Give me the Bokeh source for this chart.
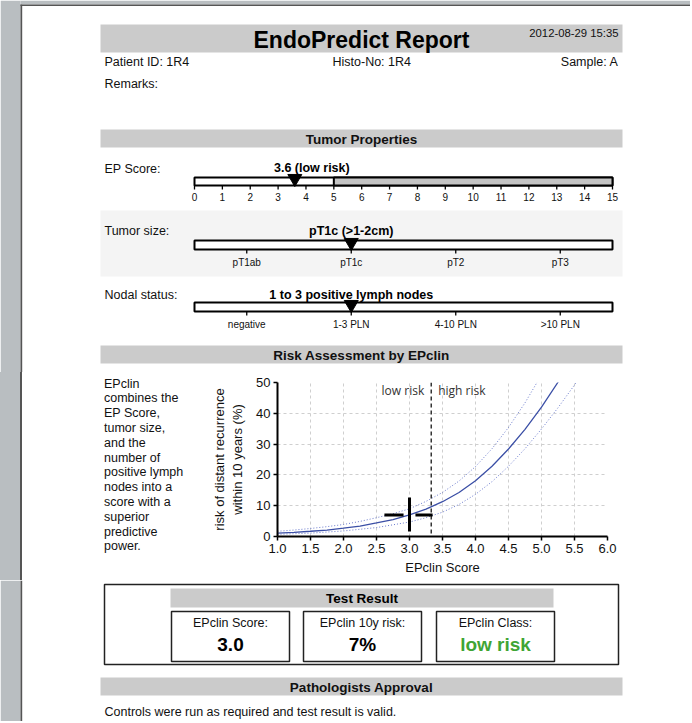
from bokeh.plotting import figure
from bokeh.models import Range1d, FixedTicker, NumeralTickFormatter, Span, Div
from bokeh.layouts import column, row
from bokeh.embed import file_html
from bokeh.resources import INLINE
from bokeh.core.properties import value

FONT = "Liberation Sans"

# ---------------- data ----------------
report_title = "EndoPredict Report"
report_date = "2012-08-29 15:35"
patient_id = "1R4"
histo_no = "1R4"
sample_id = "A"

ep_score = 3.6
ep_label = "3.6 (low risk)"
ep_ticks = list(range(0, 16))
ep_cutoff = 5
ep_max = 15

tumor_cats = ["pT1ab", "pT1c", "pT2", "pT3"]
tumor_value = "pT1c"
tumor_label = "pT1c (>1-2cm)"

nodal_cats = ["negative", "1-3 PLN", "4-10 PLN", ">10 PLN"]
nodal_value = "1-3 PLN"
nodal_label = "1 to 3 positive lymph nodes"

curve_x = [1.0, 1.25, 1.5, 1.75, 2.0, 2.25, 2.5, 2.75, 3.0, 3.25, 3.5, 3.75, 4.0, 4.25, 4.5, 4.75, 5.0, 5.25, 5.4]
curve_y = [1.1, 1.35, 1.7, 2.1, 2.7, 3.4, 4.4, 5.5, 7.0, 8.9, 11.3, 14.3, 18.1, 22.8, 28.4, 34.8, 42.0, 50.1, 55.5]
upper_x = [1.0, 1.25, 1.5, 1.75, 2.0, 2.25, 2.5, 2.75, 3.0, 3.25, 3.5, 3.75, 4.0, 4.25, 4.5, 4.75, 5.0, 5.1]
upper_y = [1.7, 2.1, 2.6, 3.2, 3.9, 4.9, 6.1, 7.4, 9.0, 11.4, 14.3, 18.0, 22.7, 28.5, 35.4, 43.4, 52.5, 56.5]
lower_x = [1.0, 1.5, 2.0, 2.5, 3.0, 3.25, 3.5, 3.75, 4.0, 4.25, 4.5, 4.75, 5.0, 5.25, 5.5, 5.65]
lower_y = [0.7, 1.1, 1.8, 2.9, 4.7, 6.1, 7.9, 10.4, 13.7, 17.8, 22.8, 28.5, 34.9, 41.8, 49.2, 54.0]

epclin_cutoff = 3.3287
epclin_score = 3.0
epclin_risk = 7
score_ci = [2.62, 3.35]
risk_ci = [1.6, 12.7]
x_ticks = [1.0, 1.5, 2.0, 2.5, 3.0, 3.5, 4.0, 4.5, 5.0, 5.5, 6.0]
y_ticks = [0, 10, 20, 30, 40, 50]

paragraph = ["EPclin", "combines the", "EP Score,", "tumor size,", "and the", "number of",
             "positive lymph", "nodes into a", "score with a", "superior", "predictive", "power."]

result_titles = ["EPclin Score:", "EPclin 10y risk:", "EPclin Class:"]
result_values = ["%.1f" % epclin_score, "%d%%" % epclin_risk, "low risk"]
result_colors = ["#000000", "#000000", "#3fa535"]
approval_text = "Controls were run as required and test result is valid."

# ---------------- styling ----------------
BAND = "#cbcbcb"
PAGE_GREY = "#b9bec1"
FRAME = "#555555"
PAGE_W = 690


def canvas(x0, x1, y0, y1):
    p = figure(width=x1 - x0, height=y1 - y0, x_range=Range1d(x0, x1), y_range=Range1d(y1, y0),
               output_backend="svg", toolbar_location=None, min_border=0,
               x_axis_location=None, y_axis_location=None)
    p.grid.visible = False
    p.outline_line_color = None
    p.background_fill_color = "white"
    p.border_fill_color = "white"
    p.quad(left=[x0], right=[20], top=[y0], bottom=[y1], fill_color=PAGE_GREY, line_color=None)
    p.quad(left=[20], right=[21.7], top=[max(y0, 4)], bottom=[y1], fill_color=FRAME, line_color=None)
    return p


def txt(p, x, y, s, size=12.5, bold=False, align="left", color="#111111", font=FONT, **kw):
    p.text(x=[x], y=[y], text=[s], text_font=value(font), text_font_size="%.1fpx" % size,
           text_font_style="bold" if bold else "normal", text_align=align,
           text_baseline="middle", text_color=color, **kw)


def band(p, y0, y1, label, x0=100, x1=622):
    p.quad(left=[x0], right=[x1], top=[y0], bottom=[y1], fill_color=BAND, line_color=None)
    txt(p, (x0 + x1) / 2, (y0 + y1) / 2 + 0.5, label, size=13.5, bold=True, align="center")


# ---------------- top section ----------------
top = canvas(0, PAGE_W, 0, 372)
top.quad(left=[20], right=[PAGE_W], top=[0], bottom=[4], fill_color=PAGE_GREY, line_color=None)
top.quad(left=[20], right=[PAGE_W], top=[4], bottom=[5.6], fill_color=FRAME, line_color=None)

BAR_L, BAR_R = 194, 612
ep_scale = (BAR_R - BAR_L) / ep_max
cat_scale = (BAR_R - BAR_L) / len(tumor_cats)
top.extra_x_ranges = {
    "ep": Range1d(-BAR_L / ep_scale, ep_max + (PAGE_W - BAR_R) / ep_scale),
    "cat": Range1d(-BAR_L / cat_scale, len(tumor_cats) + (PAGE_W - BAR_R) / cat_scale),
}

# header
top.quad(left=[100], right=[622], top=[24], bottom=[52], fill_color=BAND, line_color=None)
txt(top, 361, 39, report_title, size=23, bold=True, align="center", color="#000")
txt(top, 618, 32, report_date, size=11.3, align="right")
txt(top, 104, 61, "Patient ID: " + patient_id)
txt(top, 332, 61, "Histo-No: " + histo_no)
txt(top, 618, 61, "Sample: " + sample_id, align="right")
txt(top, 104, 83, "Remarks:")

band(top, 129, 147, "Tumor Properties")

# EP score row
txt(top, 104, 168, "EP Score:")
top.quad(left=[0], right=[ep_max], top=[177], bottom=[185], fill_color="white",
         line_color="black", line_width=2, x_range_name="ep")
top.quad(left=[ep_cutoff], right=[ep_max], top=[177], bottom=[185], fill_color="#c4c4c4",
         line_color="black", line_width=2, x_range_name="ep")
top.segment(x0=ep_ticks, x1=ep_ticks, y0=[185] * len(ep_ticks), y1=[189] * len(ep_ticks),
            line_color="black", line_width=1.3, x_range_name="ep")
top.text(x=ep_ticks, y=[196] * len(ep_ticks), text=[str(t) for t in ep_ticks],
         text_font=value(FONT), text_font_size="10px", text_align="center",
         text_baseline="middle", text_color="#111", x_range_name="ep")
top.scatter(x=[ep_score], y=[178], marker="inverted_triangle", size=14, fill_color="black",
            line_color="black", x_range_name="ep")
top.text(x=[ep_score], y=[167], text=[ep_label], text_font=value(FONT), text_font_size="12.5px",
         text_font_style="bold", text_align="center", text_baseline="middle", text_color="#000",
         x_offset=17, x_range_name="ep")

# tumor size row (light background)
top.quad(left=[100], right=[622], top=[210], bottom=[276], fill_color="#f4f4f4", line_color=None)


def cat_row(p, row_title, cats, val, label, ytxt, ybar):
    pos = [i + 0.5 for i in range(len(cats))]
    txt(p, 104, ytxt, row_title)
    p.quad(left=[0], right=[len(cats)], top=[ybar], bottom=[ybar + 9], fill_color="white",
           line_color="black", line_width=2, x_range_name="cat")
    p.segment(x0=pos, x1=pos, y0=[ybar + 9] * len(pos), y1=[ybar + 13] * len(pos),
              line_color="black", line_width=1.3, x_range_name="cat")
    p.text(x=pos, y=[ybar + 22] * len(pos), text=cats, text_font=value(FONT),
           text_font_size="10px", text_align="center", text_baseline="middle",
           text_color="#111", x_range_name="cat")
    vx = cats.index(val) + 0.5
    p.scatter(x=[vx], y=[ybar + 2], marker="inverted_triangle", size=14, fill_color="black",
              line_color="black", x_range_name="cat")
    p.text(x=[vx], y=[ytxt], text=[label], text_font=value(FONT), text_font_size="12.5px",
           text_font_style="bold", text_align="center", text_baseline="middle",
           text_color="#000", x_range_name="cat")


cat_row(top, "Tumor size:", tumor_cats, tumor_value, tumor_label, 230, 240)
cat_row(top, "Nodal status:", nodal_cats, nodal_value, nodal_label, 294, 302)

band(top, 345, 363, "Risk Assessment by EPclin")

# ---------------- middle section ----------------
MID_H = 208
LEFT_W = 208
para_html = (
    '<div style="position:relative;display:block;overflow:hidden;width:%dpx;height:%dpx;'
    'margin:0;padding:0;background:#ffffff;">'
    '<div style="position:absolute;left:0;top:0;width:20px;height:%dpx;background:%s;"></div>'
    '<div style="position:absolute;left:20px;top:0;width:1.7px;height:%dpx;background:%s;"></div>'
    '<div style="position:absolute;left:104px;top:4.6px;margin:0;padding:0;'
    "font-family:'Liberation Sans';font-size:12.5px;line-height:14.8px;color:#111111;"
    'white-space:nowrap;">%s</div></div>'
) % (LEFT_W, MID_H, MID_H, PAGE_GREY, MID_H, FRAME, "<br>".join(paragraph))
left = Div(text=para_html, width=LEFT_W, height=MID_H, margin=0,
           styles={"margin": "0", "padding": "0", "background-color": PAGE_GREY})

chart = figure(width=PAGE_W - LEFT_W, height=MID_H, x_range=Range1d(1.0, 6.0), y_range=Range1d(0, 50),
               output_backend="svg", toolbar_location=None,
               min_border_left=69, min_border_right=PAGE_W - LEFT_W - 69 - 330,
               min_border_top=10, min_border_bottom=44)
chart.outline_line_color = None
chart.background_fill_color = "white"
chart.xaxis.ticker = FixedTicker(ticks=x_ticks)
chart.yaxis.ticker = FixedTicker(ticks=y_ticks)
chart.xaxis.formatter = NumeralTickFormatter(format="0.0")
chart.xaxis.axis_label = "EPclin Score"
chart.yaxis.axis_label = "risk of distant recurrence\nwithin 10 years (%)"
for ax in (chart.xaxis, chart.yaxis):
    ax.axis_line_width = 2
    ax.axis_line_color = "black"
    ax.major_tick_line_color = "black"
    ax.major_tick_line_width = 1.5
    ax.major_tick_out = 4
    ax.major_tick_in = 0
    ax.minor_tick_out = 0
    ax.minor_tick_in = 0
    ax.major_label_text_font = FONT
    ax.major_label_text_font_size = "13px"
    ax.major_label_text_color = "#111"
    ax.major_label_standoff = 3
    ax.axis_label_text_font = FONT
    ax.axis_label_text_font_size = "13px"
    ax.axis_label_text_font_style = "normal"
    ax.axis_label_text_color = "#111"
chart.xaxis.axis_label_standoff = 4
chart.yaxis.axis_label_standoff = 8
chart.grid.grid_line_color = "#cfcfcf"
chart.grid.grid_line_dash = "3 3"
chart.grid.grid_line_width = 1

chart.line(upper_x, upper_y, line_color="#6a7acc", line_width=1, line_dash="1 2")
chart.line(lower_x, lower_y, line_color="#6a7acc", line_width=1, line_dash="1 2")
chart.line(curve_x, curve_y, line_color="#3b4fa6", line_width=1.3)
chart.add_layout(Span(location=epclin_cutoff, dimension="height", line_color="black",
                      line_dash="4 3", line_width=1.2))
chart.text(x=[epclin_cutoff], y=[50], text=["low risk"], text_font=value("Open Sans"),
           text_font_size="12px", text_align="right", text_baseline="middle",
           text_color="#333", x_offset=-7, y_offset=8)
chart.text(x=[epclin_cutoff], y=[50], text=["high risk"], text_font=value("Open Sans"),
           text_font_size="12px", text_align="left", text_baseline="middle",
           text_color="#333", x_offset=7, y_offset=8)
gap = 0.09
chart.segment(x0=[epclin_score], x1=[epclin_score], y0=[risk_ci[0]], y1=[risk_ci[1]],
              line_color="black", line_width=3)
chart.segment(x0=[score_ci[0], epclin_score + gap], x1=[epclin_score - gap, score_ci[1]],
              y0=[epclin_risk, epclin_risk], y1=[epclin_risk, epclin_risk],
              line_color="black", line_width=3)

# ---------------- bottom section ----------------
bot = canvas(0, PAGE_W, 580, 721)
bot.quad(left=[104], right=[618], top=[584], bottom=[664], fill_color=None,
         line_color="#222", line_width=1.5)
bot.quad(left=[170], right=[553], top=[588], bottom=[607], fill_color=BAND, line_color=None)
txt(bot, 361.5, 598, "Test Result", size=13.5, bold=True, align="center", color="#000")
box_l = [171, 303, 436]
box_w = 118
for bl, t, v, c in zip(box_l, result_titles, result_values, result_colors):
    bot.quad(left=[bl], right=[bl + box_w], top=[611], bottom=[661], fill_color=None,
             line_color="#222", line_width=1.5)
    txt(bot, bl + box_w / 2, 622, t, size=12.5, align="center")
    txt(bot, bl + box_w / 2, 644, v, size=19, bold=True, align="center", color=c)

band(bot, 677, 695, "Pathologists Approval")
txt(bot, 104, 711, approval_text)

layout = column(top, row(left, chart, spacing=0), bot, spacing=0)
open("out.html", "w").write(file_html(layout, INLINE))
